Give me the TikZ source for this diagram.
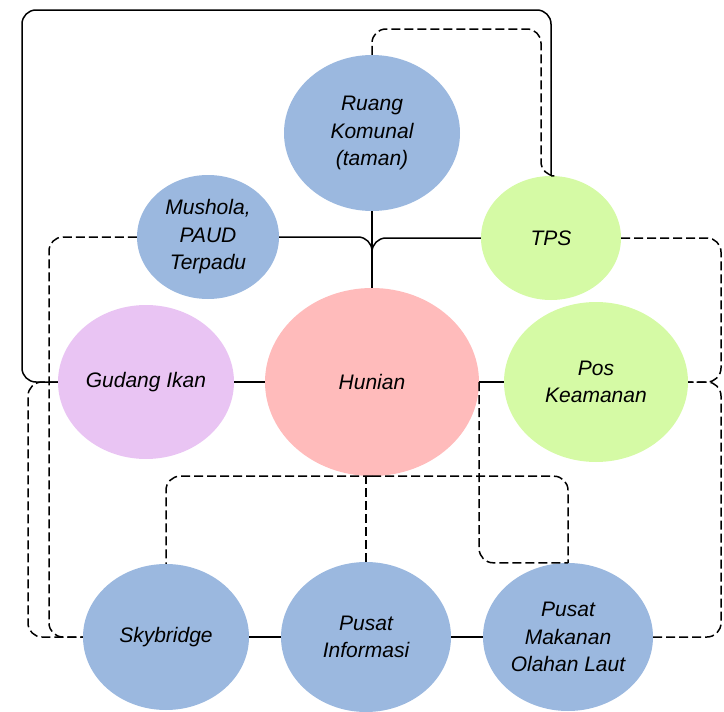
\documentclass[tikz,border=0pt]{standalone}
\usepackage{fontspec}
\setsansfont{Liberation Sans}
\usetikzlibrary{shapes.geometric}
\definecolor{nblue}{HTML}{9BB8DF}
\definecolor{npink}{HTML}{FFBBBB}
\definecolor{ngreen}{HTML}{D5FAA5}
\definecolor{nviolet}{HTML}{E9C4F3}
\tikzset{every node/.style={ellipse,inner sep=0pt,align=center}}
\tikzset{bl/.style={fill=nblue}}
\tikzset{pk/.style={fill=npink}}
\tikzset{gr/.style={fill=ngreen}}
\tikzset{vi/.style={fill=nviolet}}
\tikzset{ln/.style={line width=1.5pt,rounded corners=14pt}}
\tikzset{dl/.style={ln,dash pattern=on 9pt off 4pt}}

\begin{document}
\begin{tikzpicture}[x=1pt,y=-1pt,font=\fontsize{21}{27.5}\selectfont\sffamily\itshape]
      \useasboundingbox (0,0) rectangle (724,712);
      \node[bl,minimum width=176pt,minimum height=156pt] (R) at (372,133) {Ruang\\Komunal\\(taman)};
      \node[bl,minimum width=142pt,minimum height=124pt] (M) at (208,237) {Mushola,\\PAUD\\Terpadu};
      \node[gr,minimum width=140pt,minimum height=124pt] (T) at (551,238) {TPS};
      \node[vi,minimum width=176pt,minimum height=154pt] (G) at (146,382) {Gudang Ikan};
      \node[pk,minimum width=214pt,minimum height=188pt] (H) at (372,382) {Hunian};
      \node[gr,minimum width=184pt,minimum height=160pt] (K) at (596,382) {Pos\\Keamanan};
      \node[bl,minimum width=166pt,minimum height=146pt] (S) at (166,637) {Skybridge};
      \node[bl,minimum width=170pt,minimum height=150pt] (I) at (366,637) {Pusat\\Informasi};
      \node[bl,minimum width=170pt,minimum height=148pt] (P) at (568,637) {Pusat\\Makanan\\Olahan Laut};
      \draw[ln] (R) -- (H);
      \draw[ln] (M.east) -| (H.north);
      \draw[ln] (T.west) -| (H.north);
      \draw[ln] (T.north) |- (22,10) |- (G.west);
      \draw[ln] (G) -- (H);
      \draw[ln] (H) -- (K);
      \draw[ln] (S) -- (I);
      \draw[ln] (I) -- (P);
      \draw[dl] (R.north) |- (541,29) |- (T.north);
      \draw[dl] (M.west) -| (49,637) -- (S.west);
      \draw[dl] (G.west) -| (28,637) -- (S.west);
      \draw[dl] (T.east) -| (721,382) -- (K.east);
      \draw[dl] (P.east) -| (721,382) -- (K.east);
      \draw[dl] (H.east) |- (P.north);
      \draw[dl] (H.south) -| (S.north);
      \draw[dl] (H.south) -| (P.north);
      \draw[dl] (I.north) -- (I.north |- H.south);
\end{tikzpicture}
\end{document}
